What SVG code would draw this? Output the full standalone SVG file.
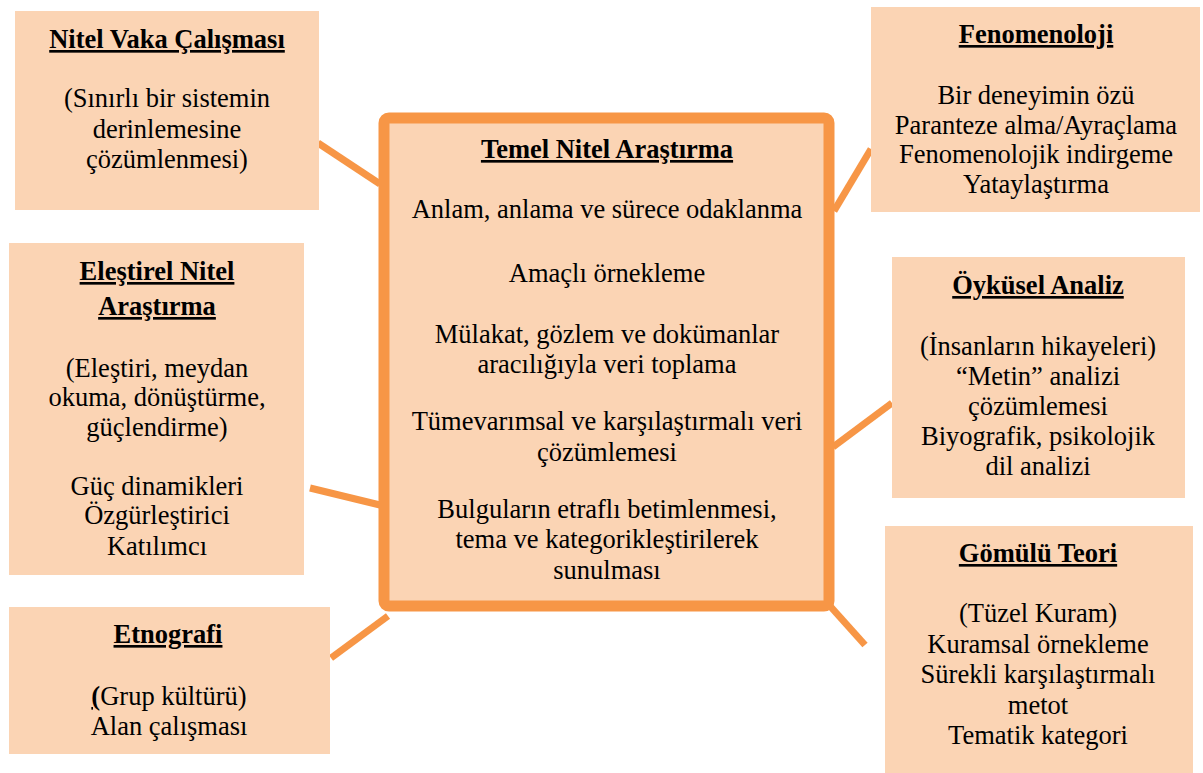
<svg xmlns="http://www.w3.org/2000/svg" width="1203" height="773" viewBox="0 0 1203 773">
<style>
.box{fill:#FBD4B4}
.conn line{stroke:#F79646;stroke-width:7}
text{font-family:"Liberation Serif","Times New Roman",serif;font-size:26.5px;fill:#000;text-anchor:middle}
.t{font-weight:bold;text-decoration:underline}
</style>
<rect width="1203" height="773" fill="#fff"/>
<g id="connectors" class="conn">
<line x1="318" y1="143" x2="380" y2="184"/>
<line x1="310" y1="488" x2="380" y2="505"/>
<line x1="331" y1="658" x2="388" y2="616"/>
<line x1="834" y1="211" x2="871" y2="149"/>
<line x1="833" y1="447" x2="892" y2="403"/>
<line x1="830" y1="606" x2="865" y2="645"/>
</g>
<g id="center">
<rect x="384" y="118" width="445" height="488" rx="5" fill="#FBD4B4" stroke="#F79646" stroke-width="11"/>
<text x="607" y="158" class="t">Temel Nitel Araştırma</text>
<text x="607" y="218">Anlam, anlama ve sürece odaklanma</text>
<text x="607" y="282">Amaçlı örnekleme</text>
<text x="607" y="343">Mülakat, gözlem ve dokümanlar</text>
<text x="607" y="373">aracılığıyla veri toplama</text>
<text x="607" y="430">Tümevarımsal ve karşılaştırmalı veri</text>
<text x="607" y="461">çözümlemesi</text>
<text x="607" y="518">Bulguların etraflı betimlenmesi,</text>
<text x="607" y="548">tema ve kategorikleştirilerek</text>
<text x="607" y="579">sunulması</text>
</g>
<g id="vaka">
<rect class="box" x="15" y="11" width="304" height="199"/>
<text x="167" y="48" class="t">Nitel Vaka Çalışması</text>
<text x="167" y="107">(Sınırlı bir sistemin</text>
<text x="167" y="138">derinlemesine</text>
<text x="167" y="168">çözümlenmesi)</text>
</g>
<g id="elestirel">
<rect class="box" x="9" y="243" width="295" height="332"/>
<text x="157" y="280" class="t">Eleştirel Nitel</text>
<text x="157" y="315" class="t">Araştırma</text>
<text x="157" y="377">(Eleştiri, meydan</text>
<text x="157" y="406">okuma, dönüştürme,</text>
<text x="157" y="436">güçlendirme)</text>
<text x="157" y="495">Güç dinamikleri</text>
<text x="157" y="524">Özgürleştirici</text>
<text x="157" y="555">Katılımcı</text>
</g>
<g id="etnografi">
<rect class="box" x="9" y="607" width="321" height="147"/>
<text x="168" y="643" class="t">Etnografi</text>
<text x="169" y="705"><tspan class="t">(</tspan>Grup kültürü)</text>
<text x="169" y="735">Alan çalışması</text>
</g>
<g id="fenomenoloji">
<rect class="box" x="871" y="7" width="329" height="205"/>
<text x="1036" y="43" class="t">Fenomenoloji</text>
<text x="1036" y="104">Bir deneyimin özü</text>
<text x="1036" y="134">Paranteze alma/Ayraçlama</text>
<text x="1036" y="163">Fenomenolojik indirgeme</text>
<text x="1036" y="193">Yataylaştırma</text>
</g>
<g id="oykusel">
<rect class="box" x="892" y="257" width="293" height="241"/>
<text x="1038" y="294" class="t">Öyküsel Analiz</text>
<text x="1038" y="355">(İnsanların hikayeleri)</text>
<text x="1038" y="385">“Metin” analizi</text>
<text x="1038" y="415">çözümlemesi</text>
<text x="1038" y="445">Biyografik, psikolojik</text>
<text x="1038" y="475">dil analizi</text>
</g>
<g id="gomulu">
<rect class="box" x="885" y="526" width="308" height="247"/>
<text x="1038" y="562" class="t">Gömülü Teori</text>
<text x="1038" y="622">(Tüzel Kuram)</text>
<text x="1038" y="653">Kuramsal örnekleme</text>
<text x="1038" y="683">Sürekli karşılaştırmalı</text>
<text x="1038" y="714">metot</text>
<text x="1038" y="744">Tematik kategori</text>
</g>
</svg>
